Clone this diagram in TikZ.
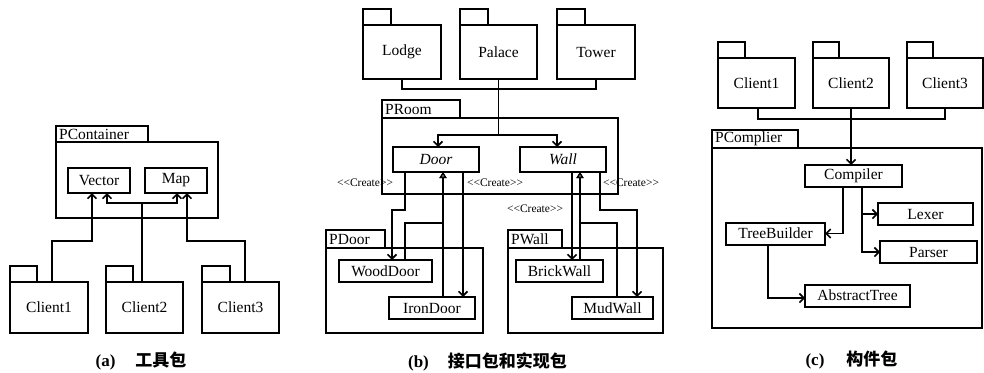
\documentclass[tikz,border=0pt]{standalone}
\usepackage{fontspec}
\setmainfont{Liberation Serif}
\newfontfamily\cjk{Noto Sans CJK SC}
\usetikzlibrary{arrows.meta}
\newcommand{\crt}{\textless\kern0pt\textless\kern0pt Create\kern0pt\textgreater\kern0pt\textgreater}
\begin{document}
\begin{tikzpicture}[x=1pt,y=-1pt,
  every node/.style={font=\fontsize{15.5}{17}\selectfont},
  cls/.style={draw, line width=2pt, minimum height=22pt, inner sep=0pt, outer sep=0pt},
  pkg/.style={draw, line width=2.1pt, inner sep=0pt, outer sep=0pt},
  tabbox/.style={draw, line width=2.1pt, inner sep=0pt, outer sep=0pt, anchor=south west, minimum height=16pt},
  tabtxt/.style={anchor=west, inner sep=3pt},
  conn/.style={line width=1.8pt},
  dep/.style={conn, -{Straight Barb[length=4.5pt,width=9pt,line width=1.6pt]}},
  real/.style={conn, -{Triangle[open,length=6pt,width=7pt,line width=1.3pt]}},
  lbl/.style={font=\fontsize{11.5}{13}\selectfont, inner sep=0pt},
  captxt/.style={font=\fontsize{17}{20}\selectfont\bfseries, inner sep=0pt}
]
\useasboundingbox (0,0) rectangle (984,372);

% ---------------- panel (a)
\node[pkg, minimum width=162pt, minimum height=76pt] (pcont) at (137,180) {};
\node[tabbox, minimum width=92pt] (pcontT) at (pcont.north west) {};
\node[tabtxt] (pcontL) at (pcontT.west) {PContainer};
\node[cls, minimum width=62pt, minimum height=25pt] (vec) at (99,180.5) {Vector};
\node[cls, minimum width=62pt, minimum height=25pt] (map) at (176,180.5) {Map};

\node[pkg, minimum width=78pt, minimum height=51pt] (ca1) at (49,307.5) {Client1};
\node[tabbox, minimum width=27pt] (ca1t) at (ca1.north west) {};
\node[pkg, minimum width=77pt, minimum height=51pt] (ca2) at (144.5,307.5) {Client2};
\node[tabbox, minimum width=27pt] (ca2t) at (ca2.north west) {};
\node[pkg, minimum width=77pt, minimum height=51pt] (ca3) at (240.5,307.5) {Client3};
\node[tabbox, minimum width=28pt] (ca3t) at (ca3.north west) {};

\draw[dep] ([xshift=3pt]ca1.north) -- ++(0,-41) -| ([xshift=-7pt]vec.south);
\draw[dep] ([xshift=-2.5pt]ca2.north) -- ++(0,-79) -| ([xshift=8pt]vec.south);
\draw[dep] ([xshift=-2.5pt]ca2.north) ++(0,-79) -| ([xshift=1pt]map.south);
\draw[dep] ([xshift=4.5pt]ca3.north) -- ++(0,-41) -| ([xshift=11pt]map.south);

\node[captxt] (capa) at (141,361) {(a)\hspace{20pt}{\cjk 工具包}};

% ---------------- panel (b)
\node[pkg, minimum width=78pt, minimum height=54pt] (lodge) at (402,52) {Lodge};
\node[tabbox, minimum width=28pt] (lodget) at (lodge.north west) {};
\node[pkg, minimum width=77pt, minimum height=54pt] (palace) at (498.5,52) {Palace};
\node[tabbox, minimum width=28pt] (palacet) at (palace.north west) {};
\node[pkg, minimum width=78pt, minimum height=54pt] (tower) at (596,52) {Tower};
\node[tabbox, minimum width=28pt] (towert) at (tower.north west) {};

\node[pkg, minimum width=236pt, minimum height=76pt] (proom) at (500,156) {};
\node[tabbox, minimum width=78pt, minimum height=18pt] (proomT) at (proom.north west) {};
\node[tabtxt] (proomL) at (proomT.west) {PRoom};
\node[cls, minimum width=86pt, minimum height=25pt] (door) at (436,159.5) {\itshape Door};
\node[cls, minimum width=86pt, minimum height=25pt] (wall) at (563,159.5) {\itshape Wall};

\node[pkg, minimum width=157pt, minimum height=85pt] (pdoor) at (404.5,290.5) {};
\node[tabbox, minimum width=59pt, minimum height=18pt] (pdoorT) at (pdoor.north west) {};
\node[tabtxt] (pdoorL) at (pdoorT.west) {PDoor};
\node[cls, minimum width=93pt] (wood) at (385.5,271) {WoodDoor};
\node[cls, minimum width=86pt] (iron) at (432,308) {IronDoor};

\node[pkg, minimum width=155pt, minimum height=85pt] (pwall) at (585.5,290.5) {};
\node[tabbox, minimum width=54pt, minimum height=18pt] (pwallT) at (pwall.north west) {};
\node[tabtxt] (pwallL) at (pwallT.west) {PWall};
\node[cls, minimum width=87pt] (brick) at (559.5,271) {BrickWall};
\node[cls, minimum width=81pt] (mud) at (612.5,308) {MudWall};

\draw[conn] (lodge.south) -- ++(0,10) -| (tower.south);
\draw[dep] (palace.south) -- ++(0,56) -| ([xshift=2pt]door.north);
\draw[dep] (palace.south) ++(0,56) -| ([xshift=-6pt]wall.north);

\draw[dep] ([xshift=-31pt]door.south) -- ++(0,38) -| ([xshift=6.5pt]wood.north);
\draw[real] ([xshift=19.5pt]wood.north) -- ++(0,-37) -| ([xshift=7pt]door.south);
\draw[real] ([xshift=11pt]iron.north) -- ([xshift=7pt]door.south);
\draw[dep] ([xshift=27pt]door.south) -- ([xshift=31pt]iron.north);
\draw[dep] ([xshift=9pt]wall.south) -- ([xshift=12.5pt]brick.north);
\draw[real] ([xshift=20.5pt]brick.north) -- ([xshift=17pt]wall.south);
\draw[real] ([xshift=4.5pt]mud.north) -- ++(0,-74) -| ([xshift=17pt]wall.south);
\draw[dep] ([xshift=37pt]wall.south) -- ++(0,38) -| ([xshift=24.5pt]mud.north);

\node[lbl] (cr1) at (365,183) {\crt};
\node[lbl] (cr2) at (495,183) {\crt};
\node[lbl] (cr3) at (631,183) {\crt};
\node[lbl] (cr4) at (535,209) {\crt};

\node[captxt] (capb) at (487.5,362) {(b)\hspace{19pt}{\cjk 接口包和实现包}};

% ---------------- panel (c)
\node[pkg, minimum width=77pt, minimum height=50pt] (cc1) at (756.5,83) {Client1};
\node[tabbox, minimum width=27pt] (cc1t) at (cc1.north west) {};
\node[pkg, minimum width=76pt, minimum height=50pt] (cc2) at (851,83) {Client2};
\node[tabbox, minimum width=26pt] (cc2t) at (cc2.north west) {};
\node[pkg, minimum width=76pt, minimum height=50pt] (cc3) at (945,83) {Client3};
\node[tabbox, minimum width=26pt] (cc3t) at (cc3.north west) {};

\node[pkg, minimum width=270pt, minimum height=180pt] (pcomp) at (847,238) {};
\node[tabbox, minimum width=86pt, minimum height=18pt] (pcompT) at (pcomp.north west) {};
\node[tabtxt] (pcompL) at (pcompT.west) {PComplier};

\node[cls, minimum width=97pt] (comp) at (853.5,176) {Compiler};
\node[cls, minimum width=95pt] (lex) at (925.5,214) {Lexer};
\node[cls, minimum width=97pt] (par) at (928.5,252) {Parser};
\node[cls, minimum width=99pt] (tb) at (775.5,233.5) {TreeBuilder};
\node[cls, minimum width=105pt] (abs) at (857.5,295.5) {AbstractTree};

\draw[conn] ([xshift=1.5pt]cc1.south) -- ++(0,11) -| (cc3.south);
\draw[dep] (cc2.south) -- ([xshift=-2.5pt]comp.north);
\draw[dep] ([xshift=-10.5pt]comp.south) |- (tb.east);
\draw[dep] ([xshift=8.5pt]comp.south) |- (lex.west);
\draw[dep] ([xshift=8.5pt]comp.south) |- (par.west);
\draw[dep] ([xshift=-7.5pt]tb.south) |- ([yshift=-2.5pt]abs.west);

\node[captxt] (capc) at (851.5,360) {(c)\hspace{22pt}{\cjk 构件包}};
\end{tikzpicture}
\end{document}
